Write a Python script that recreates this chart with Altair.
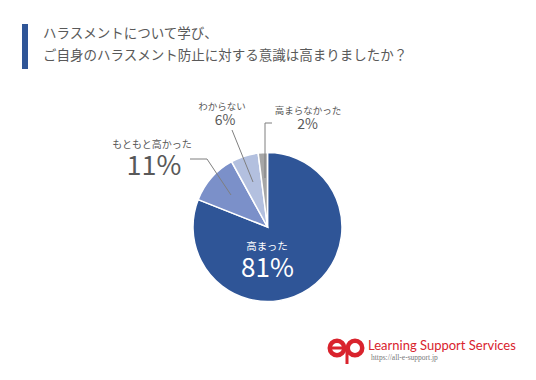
import altair as alt
import pandas as pd

# ---- data ----
categories = ["高まった", "もともと高かった", "わからない", "高まらなかった"]
values = [81, 11, 6, 2]
colors = ["#2F5597", "#7B90C9", "#B3C0DF", "#A6A6A6"]
title_lines = ["ハラスメントについて学び、", "ご自身のハラスメント防止に対する意識は高まりましたか？"]
brand = "Learning Support Services"
url = "https://all-e-support.jp"

FONT = "Noto Sans CJK JP"
GREY = "#595959"
RED = "#D9232D"
O = 8  # page margin offset

def P(v):
    return v - O

df = pd.DataFrame({"cat": categories, "val": values, "ord": list(range(len(values)))})

pie = alt.Chart(df).mark_arc(radius=74.5, stroke="white", strokeWidth=1.5).encode(
    theta=alt.Theta("val:Q", stack=True),
    order=alt.Order("ord:Q"),
    color=alt.Color("cat:N", scale=alt.Scale(domain=categories, range=colors), legend=None),
    x=alt.value(P(267.5)),
    y=alt.value(P(227)),
)

one = pd.DataFrame({"a": [0]})

def txt(text, x, y, size, color=GREY, align="center", font=FONT, weight="normal", style="normal"):
    return alt.Chart(one).mark_text(
        text=text, fontSize=size, color=color, align=align, baseline="middle",
        font=font, fontWeight=weight, fontStyle=style,
    ).encode(x=alt.value(P(x)), y=alt.value(P(y)))

def rule(x1, y1, x2, y2, color="#7F7F7F", w=1):
    return alt.Chart(one).mark_rule(color=color, strokeWidth=w).encode(
        x=alt.value(P(x1)), y=alt.value(P(y1)), x2=alt.value(P(x2)), y2=alt.value(P(y2))
    )

layers = [pie]

# title bar and text
layers.append(alt.Chart(one).mark_rect(color="#2F5597").encode(
    x=alt.value(P(22)), x2=alt.value(P(28)), y=alt.value(P(24)), y2=alt.value(P(69))))
layers.append(txt(title_lines[0], 43, 34, 13.5, align="left"))
layers.append(txt(title_lines[1], 43, 56, 13.5, align="left"))

# leader lines
layers.append(rule(190, 159, 207, 159))
layers.append(rule(207, 159, 231, 195))
layers.append(rule(232, 130, 253, 182))
layers.append(rule(265, 123, 265, 178))
layers.append(rule(265, 123, 272, 123))

pct = [f"{v}%" for v in values]
# labels
layers.append(txt(categories[0], 267, 247, 10.5, color="white"))
layers.append(txt(pct[0], 267.5, 269, 26, color="white"))
layers.append(txt(categories[1], 152, 145, 10))
layers.append(txt(pct[1], 154, 166.5, 27))
layers.append(txt(categories[2], 222, 106.5, 9.5))
layers.append(txt(pct[2], 225, 120.5, 14))
layers.append(txt(categories[3], 308, 110.5, 9.5))
layers.append(txt(pct[3], 307.5, 125, 14))

# logo
layers.append(alt.Chart(one).mark_arc(radius=9.5, radius2=5, theta=0, theta2=6.2832, color=RED).encode(
    x=alt.value(P(337)), y=alt.value(P(348))))
layers.append(alt.Chart(one).mark_arc(radius=9.5, radius2=5, theta=0, theta2=6.2832, color=RED).encode(
    x=alt.value(P(355)), y=alt.value(P(348))))
layers.append(rule(329, 348, 346, 348, color=RED, w=3))
layers.append(rule(347, 348, 347, 364, color=RED, w=3))
layers.append(txt(brand, 368, 345.5, 13, color=RED, align="left", font="Lato"))
layers.append(txt(url, 371, 358, 7.5, color="#777777", align="left", font="Liberation Serif"))

chart = alt.layer(*layers).properties(
    width=520, height=364,
    autosize=alt.AutoSizeParams(type="none"),
    padding=0,
    background="white",
).configure_view(stroke=None)

chart.save("out.html", embed_options={"renderer": "svg", "actions": False})
